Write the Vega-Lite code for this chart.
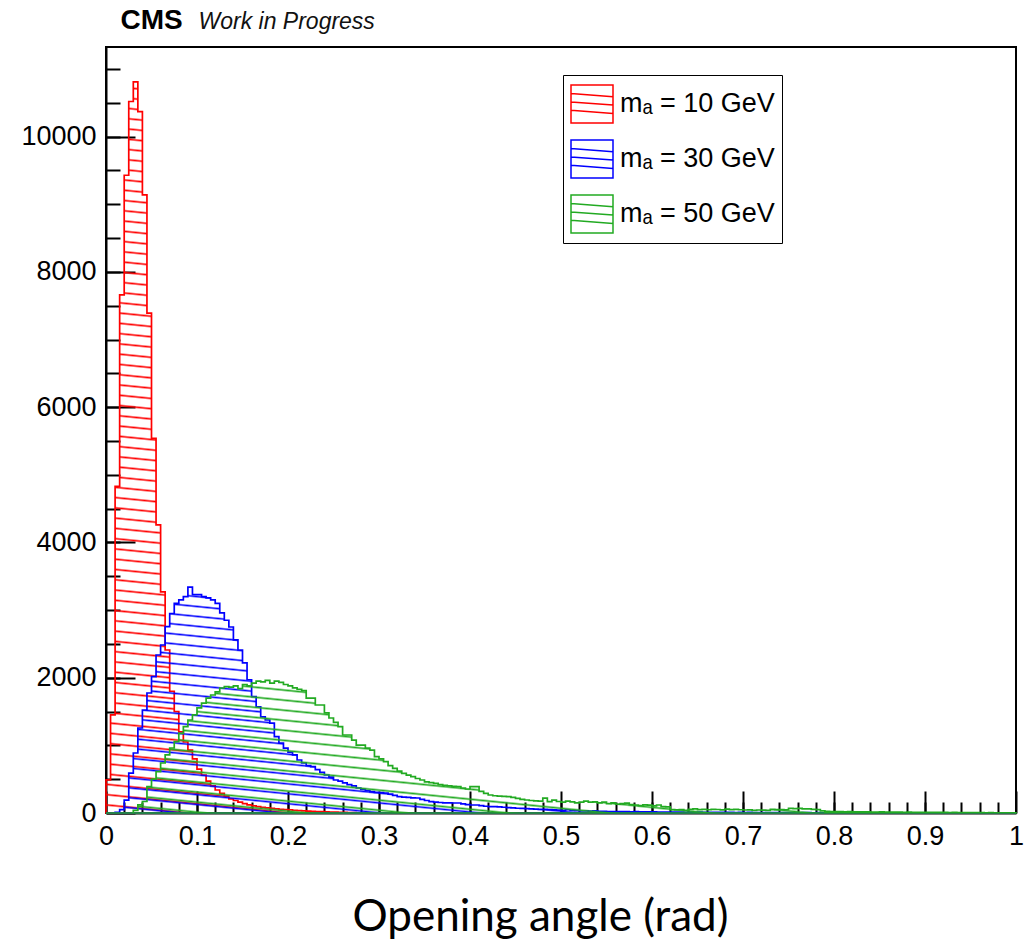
{
"$schema": "https://vega.github.io/schema/vega-lite/v6.json",
"width": 910, "height": 766,
"autosize": {"type": "none"},
"padding": {"left": 106, "top": 47, "right": 9, "bottom": 127},
"background": "white",
"config": {
  "view": {"stroke": "#000", "strokeWidth": 2},
  "axis": {"zindex": 1, "domainColor": "#000", "domainWidth": 2, "tickColor": "#000", "tickWidth": 2, "labelFont": "Liberation Sans", "labelFontSize": 27, "labelColor": "#000", "grid": false, "labelFlush": false, "offset": 0}
},
"data": {"values": [
{"x":0,"r":490,"b":0,"g":0},{"x":0.005,"r":1450,"b":0,"g":0},{"x":0.01,"r":4830,"b":10,"g":0},{"x":0.015,"r":7660,"b":50,"g":0},{"x":0.02,"r":9430,"b":190,"g":0},
{"x":0.025,"r":10520,"b":590,"g":0},{"x":0.03,"r":10810,"b":887,"g":40},{"x":0.035,"r":10370,"b":1257,"g":120},{"x":0.04,"r":9140,"b":1523,"g":170},{"x":0.045,"r":7390,"b":1774,"g":390},
{"x":0.05,"r":5540,"b":2015,"g":500},{"x":0.055,"r":4260,"b":2336,"g":611},{"x":0.06,"r":3270,"b":2484,"g":739},{"x":0.065,"r":2410,"b":2755,"g":858},{"x":0.07,"r":1800,"b":2950,"g":961},
{"x":0.075,"r":1500,"b":3100,"g":1054},{"x":0.08,"r":1200,"b":3150,"g":1178},{"x":0.085,"r":1050,"b":3200,"g":1276},{"x":0.09,"r":930,"b":3340,"g":1375},{"x":0.095,"r":800,"b":3230,"g":1450},
{"x":0.1,"r":650,"b":3230,"g":1553},{"x":0.105,"r":560,"b":3200,"g":1626},{"x":0.11,"r":470,"b":3180,"g":1700},{"x":0.115,"r":400,"b":3150,"g":1745},{"x":0.12,"r":340,"b":3100,"g":1790},
{"x":0.125,"r":290,"b":2960,"g":1848},{"x":0.13,"r":250,"b":2850,"g":1868},{"x":0.135,"r":210,"b":2750,"g":1860},{"x":0.14,"r":185,"b":2560,"g":1880},{"x":0.145,"r":160,"b":2410,"g":1840},
{"x":0.15,"r":140,"b":2220,"g":1900},{"x":0.155,"r":120,"b":1970,"g":1880},{"x":0.16,"r":105,"b":1720,"g":1920},{"x":0.165,"r":95,"b":1570,"g":1950},{"x":0.17,"r":85,"b":1420,"g":1940},
{"x":0.175,"r":75,"b":1375,"g":1960},{"x":0.18,"r":68,"b":1330,"g":1920},{"x":0.185,"r":60,"b":1130,"g":1950},{"x":0.19,"r":55,"b":1035,"g":1930},{"x":0.195,"r":50,"b":960,"g":1900},
{"x":0.2,"r":45,"b":900,"g":1880},{"x":0.205,"r":40,"b":860,"g":1850},{"x":0.21,"r":36,"b":784,"g":1830},{"x":0.215,"r":32,"b":740,"g":1810},{"x":0.22,"r":28,"b":700,"g":1700},
{"x":0.225,"r":25,"b":685,"g":1700},{"x":0.23,"r":22,"b":640,"g":1597},{"x":0.235,"r":19,"b":600,"g":1597},{"x":0.24,"r":16,"b":562,"g":1479},{"x":0.245,"r":14,"b":530,"g":1405},
{"x":0.25,"r":12,"b":488,"g":1340},{"x":0.255,"r":10,"b":470,"g":1276},{"x":0.26,"r":8,"b":444,"g":1153},{"x":0.265,"r":6,"b":420,"g":1153},{"x":0.27,"r":5,"b":400,"g":1079},
{"x":0.275,"r":4,"b":370,"g":1005},{"x":0.28,"r":3,"b":350,"g":1005},{"x":0.285,"r":2,"b":330,"g":960},{"x":0.29,"r":2,"b":315,"g":931},{"x":0.295,"r":1,"b":305,"g":833},
{"x":0.3,"r":0,"b":300,"g":800},{"x":0.305,"r":0,"b":296,"g":759},{"x":0.31,"r":0,"b":280,"g":700},{"x":0.315,"r":0,"b":260,"g":661},{"x":0.32,"r":0,"b":241,"g":620},
{"x":0.325,"r":0,"b":235,"g":587},{"x":0.33,"r":0,"b":230,"g":560},{"x":0.335,"r":0,"b":225,"g":537},{"x":0.34,"r":0,"b":222,"g":510},{"x":0.345,"r":0,"b":200,"g":488},
{"x":0.35,"r":0,"b":185,"g":460},{"x":0.355,"r":0,"b":167,"g":450},{"x":0.36,"r":0,"b":160,"g":439},{"x":0.365,"r":0,"b":155,"g":420},{"x":0.37,"r":0,"b":150,"g":410},
{"x":0.375,"r":0,"b":150,"g":400},{"x":0.38,"r":0,"b":148,"g":395},{"x":0.385,"r":0,"b":148,"g":389},{"x":0.39,"r":0,"b":135,"g":370},{"x":0.395,"r":0,"b":125,"g":355},
{"x":0.4,"r":0,"b":118,"g":390},{"x":0.405,"r":0,"b":118,"g":390},{"x":0.41,"r":0,"b":110,"g":320},{"x":0.415,"r":0,"b":100,"g":290},{"x":0.42,"r":0,"b":95,"g":266},
{"x":0.425,"r":0,"b":93,"g":255},{"x":0.43,"r":0,"b":90,"g":250},{"x":0.435,"r":0,"b":85,"g":245},{"x":0.44,"r":0,"b":80,"g":241},{"x":0.445,"r":0,"b":75,"g":230},
{"x":0.45,"r":0,"b":70,"g":215},{"x":0.455,"r":0,"b":69,"g":200},{"x":0.46,"r":0,"b":65,"g":192},{"x":0.465,"r":0,"b":60,"g":185},{"x":0.47,"r":0,"b":58,"g":180},
{"x":0.475,"r":0,"b":55,"g":175},{"x":0.48,"r":0,"b":54,"g":220},{"x":0.485,"r":0,"b":50,"g":167},{"x":0.49,"r":0,"b":45,"g":190},{"x":0.495,"r":0,"b":42,"g":170},
{"x":0.5,"r":0,"b":40,"g":160},{"x":0.505,"r":0,"b":48,"g":175},{"x":0.51,"r":0,"b":38,"g":165},{"x":0.515,"r":0,"b":35,"g":150},{"x":0.52,"r":0,"b":32,"g":160},
{"x":0.525,"r":0,"b":30,"g":175},{"x":0.53,"r":0,"b":28,"g":160},{"x":0.535,"r":0,"b":30,"g":165},{"x":0.54,"r":0,"b":26,"g":150},{"x":0.545,"r":0,"b":24,"g":160},
{"x":0.55,"r":0,"b":22,"g":140},{"x":0.555,"r":0,"b":22,"g":150},{"x":0.56,"r":0,"b":20,"g":130},{"x":0.565,"r":0,"b":22,"g":140},{"x":0.57,"r":0,"b":19,"g":145},
{"x":0.575,"r":0,"b":18,"g":125},{"x":0.58,"r":0,"b":20,"g":118},{"x":0.585,"r":0,"b":17,"g":110},{"x":0.59,"r":0,"b":18,"g":120},{"x":0.595,"r":0,"b":16,"g":115},
{"x":0.6,"r":0,"b":17,"g":105},{"x":0.605,"r":0,"b":15,"g":118},{"x":0.61,"r":0,"b":14,"g":95},{"x":0.615,"r":0,"b":15,"g":90},{"x":0.62,"r":0,"b":13,"g":50},
{"x":0.625,"r":0,"b":14,"g":45},{"x":0.63,"r":0,"b":12,"g":50},{"x":0.635,"r":0,"b":11,"g":40},{"x":0.64,"r":0,"b":12,"g":55},{"x":0.645,"r":0,"b":11,"g":60},
{"x":0.65,"r":0,"b":12,"g":50},{"x":0.655,"r":0,"b":10,"g":55},{"x":0.66,"r":0,"b":9,"g":48},{"x":0.665,"r":0,"b":10,"g":55},{"x":0.67,"r":0,"b":9,"g":52},
{"x":0.675,"r":0,"b":8,"g":45},{"x":0.68,"r":0,"b":9,"g":58},{"x":0.685,"r":0,"b":8,"g":50},{"x":0.69,"r":0,"b":7,"g":55},{"x":0.695,"r":0,"b":8,"g":48},
{"x":0.7,"r":0,"b":7,"g":44},{"x":0.705,"r":0,"b":8,"g":46},{"x":0.71,"r":0,"b":6,"g":40},{"x":0.715,"r":0,"b":7,"g":44},{"x":0.72,"r":0,"b":6,"g":42},
{"x":0.725,"r":0,"b":7,"g":38},{"x":0.73,"r":0,"b":6,"g":55},{"x":0.735,"r":0,"b":5,"g":50},{"x":0.74,"r":0,"b":6,"g":52},{"x":0.745,"r":0,"b":5,"g":48},
{"x":0.75,"r":0,"b":6,"g":69},{"x":0.755,"r":0,"b":5,"g":65},{"x":0.76,"r":0,"b":4,"g":69},{"x":0.765,"r":0,"b":5,"g":60},{"x":0.77,"r":0,"b":5,"g":62},
{"x":0.775,"r":0,"b":4,"g":55},{"x":0.78,"r":0,"b":5,"g":50},{"x":0.785,"r":0,"b":4,"g":30},{"x":0.79,"r":0,"b":4,"g":25},{"x":0.795,"r":0,"b":3,"g":22},
{"x":0.8,"r":0,"b":4,"g":20},{"x":0.805,"r":0,"b":3,"g":22},{"x":0.81,"r":0,"b":4,"g":18},{"x":0.815,"r":0,"b":3,"g":20},{"x":0.82,"r":0,"b":3,"g":17},
{"x":0.825,"r":0,"b":4,"g":18},{"x":0.83,"r":0,"b":3,"g":16},{"x":0.835,"r":0,"b":3,"g":18},{"x":0.84,"r":0,"b":2,"g":15},{"x":0.845,"r":0,"b":3,"g":14},
{"x":0.85,"r":0,"b":3,"g":16},{"x":0.855,"r":0,"b":2,"g":13},{"x":0.86,"r":0,"b":3,"g":14},{"x":0.865,"r":0,"b":2,"g":12},{"x":0.87,"r":0,"b":2,"g":13},
{"x":0.875,"r":0,"b":3,"g":11},{"x":0.88,"r":0,"b":2,"g":12},{"x":0.885,"r":0,"b":2,"g":10},{"x":0.89,"r":0,"b":2,"g":11},{"x":0.895,"r":0,"b":1,"g":10},
{"x":0.9,"r":0,"b":2,"g":9},{"x":0.905,"r":0,"b":2,"g":10},{"x":0.91,"r":0,"b":1,"g":8},{"x":0.915,"r":0,"b":2,"g":9},{"x":0.92,"r":0,"b":1,"g":8},
{"x":0.925,"r":0,"b":2,"g":7},{"x":0.93,"r":0,"b":1,"g":8},{"x":0.935,"r":0,"b":1,"g":6},{"x":0.94,"r":0,"b":2,"g":7},{"x":0.945,"r":0,"b":1,"g":6},
{"x":0.95,"r":0,"b":1,"g":5},{"x":0.955,"r":0,"b":1,"g":6},{"x":0.96,"r":0,"b":1,"g":5},{"x":0.965,"r":0,"b":1,"g":4},{"x":0.97,"r":0,"b":0,"g":5},
{"x":0.975,"r":0,"b":1,"g":4},{"x":0.98,"r":0,"b":1,"g":3},{"x":0.985,"r":0,"b":0,"g":4},{"x":0.99,"r":0,"b":1,"g":3},{"x":0.995,"r":0,"b":0,"g":2},
{"x":1,"r":0,"b":0,"g":0}
]},
"transform": [{"fold": ["r", "b", "g"], "as": ["k", "v"]}],
"layer": [
{
 "transform": [{"filter": "datum.k === 'r'"}],
 "mark": {"type": "area", "interpolate": "step-after", "strokeWidth": 1.7},
 "encoding": {
  "x": {"field": "x", "type": "quantitative", "scale": {"domain": [0, 1], "nice": false, "zero": false},
        "axis": {"orient": "bottom", "values": [0,0.1,0.2,0.3,0.4,0.5,0.6,0.7,0.8,0.9,1], "tickSize": -22, "labels": false, "domain": true, "title": null}},
  "y": {"field": "v", "type": "quantitative", "scale": {"domain": [0, 11326], "nice": false},
        "axis": {"orient": "left", "values": [0,2000,4000,6000,8000,10000], "tickSize": -29, "labels": false, "domain": true,
                 "title": "CMS", "titleAngle": 0, "titleX": 14, "titleY": -19, "titleAlign": "left", "titleBaseline": "alphabetic",
                 "titleFont": "Liberation Sans", "titleFontSize": 28, "titleFontWeight": "bold", "titleColor": "#000"}},
  "fill": {"condition": {"test": "true", "value": {"gradient": "linear", "x1": 1, "y1": 0, "x2": 0.862, "y2": 1.107, "stops": [
{"offset":0.001,"color":"#f000"},{"offset":0.003,"color":"#f00"},{"offset":0.005,"color":"#f000"},{"offset":0.0135,"color":"#f000"},{"offset":0.0155,"color":"#f00"},{"offset":0.0175,"color":"#f000"},
{"offset":0.026,"color":"#f000"},{"offset":0.028,"color":"#f00"},{"offset":0.03,"color":"#f000"},{"offset":0.0385,"color":"#f000"},{"offset":0.0405,"color":"#f00"},{"offset":0.0425,"color":"#f000"},
{"offset":0.051,"color":"#f000"},{"offset":0.053,"color":"#f00"},{"offset":0.055,"color":"#f000"},{"offset":0.0635,"color":"#f000"},{"offset":0.0655,"color":"#f00"},{"offset":0.0675,"color":"#f000"},
{"offset":0.076,"color":"#f000"},{"offset":0.078,"color":"#f00"},{"offset":0.08,"color":"#f000"},{"offset":0.0885,"color":"#f000"},{"offset":0.0905,"color":"#f00"},{"offset":0.0925,"color":"#f000"},
{"offset":0.101,"color":"#f000"},{"offset":0.103,"color":"#f00"},{"offset":0.105,"color":"#f000"},{"offset":0.1135,"color":"#f000"},{"offset":0.1155,"color":"#f00"},{"offset":0.1175,"color":"#f000"},
{"offset":0.126,"color":"#f000"},{"offset":0.128,"color":"#f00"},{"offset":0.13,"color":"#f000"},{"offset":0.1385,"color":"#f000"},{"offset":0.1405,"color":"#f00"},{"offset":0.1425,"color":"#f000"},
{"offset":0.151,"color":"#f000"},{"offset":0.153,"color":"#f00"},{"offset":0.155,"color":"#f000"},{"offset":0.1635,"color":"#f000"},{"offset":0.1655,"color":"#f00"},{"offset":0.1675,"color":"#f000"},
{"offset":0.176,"color":"#f000"},{"offset":0.178,"color":"#f00"},{"offset":0.18,"color":"#f000"},{"offset":0.1885,"color":"#f000"},{"offset":0.1905,"color":"#f00"},{"offset":0.1925,"color":"#f000"},
{"offset":0.201,"color":"#f000"},{"offset":0.203,"color":"#f00"},{"offset":0.205,"color":"#f000"},{"offset":0.2135,"color":"#f000"},{"offset":0.2155,"color":"#f00"},{"offset":0.2175,"color":"#f000"},
{"offset":0.226,"color":"#f000"},{"offset":0.228,"color":"#f00"},{"offset":0.23,"color":"#f000"},{"offset":0.2385,"color":"#f000"},{"offset":0.2405,"color":"#f00"},{"offset":0.2425,"color":"#f000"},
{"offset":0.251,"color":"#f000"},{"offset":0.253,"color":"#f00"},{"offset":0.255,"color":"#f000"},{"offset":0.2635,"color":"#f000"},{"offset":0.2655,"color":"#f00"},{"offset":0.2675,"color":"#f000"},
{"offset":0.276,"color":"#f000"},{"offset":0.278,"color":"#f00"},{"offset":0.28,"color":"#f000"},{"offset":0.2885,"color":"#f000"},{"offset":0.2905,"color":"#f00"},{"offset":0.2925,"color":"#f000"},
{"offset":0.301,"color":"#f000"},{"offset":0.303,"color":"#f00"},{"offset":0.305,"color":"#f000"},{"offset":0.3135,"color":"#f000"},{"offset":0.3155,"color":"#f00"},{"offset":0.3175,"color":"#f000"},
{"offset":0.326,"color":"#f000"},{"offset":0.328,"color":"#f00"},{"offset":0.33,"color":"#f000"},{"offset":0.3385,"color":"#f000"},{"offset":0.3405,"color":"#f00"},{"offset":0.3425,"color":"#f000"},
{"offset":0.351,"color":"#f000"},{"offset":0.353,"color":"#f00"},{"offset":0.355,"color":"#f000"},{"offset":0.3635,"color":"#f000"},{"offset":0.3655,"color":"#f00"},{"offset":0.3675,"color":"#f000"},
{"offset":0.376,"color":"#f000"},{"offset":0.378,"color":"#f00"},{"offset":0.38,"color":"#f000"},{"offset":0.3885,"color":"#f000"},{"offset":0.3905,"color":"#f00"},{"offset":0.3925,"color":"#f000"},
{"offset":0.401,"color":"#f000"},{"offset":0.403,"color":"#f00"},{"offset":0.405,"color":"#f000"},{"offset":0.4135,"color":"#f000"},{"offset":0.4155,"color":"#f00"},{"offset":0.4175,"color":"#f000"},
{"offset":0.426,"color":"#f000"},{"offset":0.428,"color":"#f00"},{"offset":0.43,"color":"#f000"},{"offset":0.4385,"color":"#f000"},{"offset":0.4405,"color":"#f00"},{"offset":0.4425,"color":"#f000"},
{"offset":0.451,"color":"#f000"},{"offset":0.453,"color":"#f00"},{"offset":0.455,"color":"#f000"},{"offset":0.4635,"color":"#f000"},{"offset":0.4655,"color":"#f00"},{"offset":0.4675,"color":"#f000"},
{"offset":0.476,"color":"#f000"},{"offset":0.478,"color":"#f00"},{"offset":0.48,"color":"#f000"},{"offset":0.4885,"color":"#f000"},{"offset":0.4905,"color":"#f00"},{"offset":0.4925,"color":"#f000"},
{"offset":0.501,"color":"#f000"},{"offset":0.503,"color":"#f00"},{"offset":0.505,"color":"#f000"},{"offset":0.5135,"color":"#f000"},{"offset":0.5155,"color":"#f00"},{"offset":0.5175,"color":"#f000"},
{"offset":0.526,"color":"#f000"},{"offset":0.528,"color":"#f00"},{"offset":0.53,"color":"#f000"},{"offset":0.5385,"color":"#f000"},{"offset":0.5405,"color":"#f00"},{"offset":0.5425,"color":"#f000"},
{"offset":0.551,"color":"#f000"},{"offset":0.553,"color":"#f00"},{"offset":0.555,"color":"#f000"},{"offset":0.5635,"color":"#f000"},{"offset":0.5655,"color":"#f00"},{"offset":0.5675,"color":"#f000"},
{"offset":0.576,"color":"#f000"},{"offset":0.578,"color":"#f00"},{"offset":0.58,"color":"#f000"},{"offset":0.5885,"color":"#f000"},{"offset":0.5905,"color":"#f00"},{"offset":0.5925,"color":"#f000"},
{"offset":0.601,"color":"#f000"},{"offset":0.603,"color":"#f00"},{"offset":0.605,"color":"#f000"},{"offset":0.6135,"color":"#f000"},{"offset":0.6155,"color":"#f00"},{"offset":0.6175,"color":"#f000"},
{"offset":0.626,"color":"#f000"},{"offset":0.628,"color":"#f00"},{"offset":0.63,"color":"#f000"},{"offset":0.6385,"color":"#f000"},{"offset":0.6405,"color":"#f00"},{"offset":0.6425,"color":"#f000"},
{"offset":0.651,"color":"#f000"},{"offset":0.653,"color":"#f00"},{"offset":0.655,"color":"#f000"},{"offset":0.6635,"color":"#f000"},{"offset":0.6655,"color":"#f00"},{"offset":0.6675,"color":"#f000"},
{"offset":0.676,"color":"#f000"},{"offset":0.678,"color":"#f00"},{"offset":0.68,"color":"#f000"},{"offset":0.6885,"color":"#f000"},{"offset":0.6905,"color":"#f00"},{"offset":0.6925,"color":"#f000"},
{"offset":0.701,"color":"#f000"},{"offset":0.703,"color":"#f00"},{"offset":0.705,"color":"#f000"},{"offset":0.7135,"color":"#f000"},{"offset":0.7155,"color":"#f00"},{"offset":0.7175,"color":"#f000"},
{"offset":0.726,"color":"#f000"},{"offset":0.728,"color":"#f00"},{"offset":0.73,"color":"#f000"},{"offset":0.7385,"color":"#f000"},{"offset":0.7405,"color":"#f00"},{"offset":0.7425,"color":"#f000"},
{"offset":0.751,"color":"#f000"},{"offset":0.753,"color":"#f00"},{"offset":0.755,"color":"#f000"},{"offset":0.7635,"color":"#f000"},{"offset":0.7655,"color":"#f00"},{"offset":0.7675,"color":"#f000"},
{"offset":0.776,"color":"#f000"},{"offset":0.778,"color":"#f00"},{"offset":0.78,"color":"#f000"},{"offset":0.7885,"color":"#f000"},{"offset":0.7905,"color":"#f00"},{"offset":0.7925,"color":"#f000"},
{"offset":0.801,"color":"#f000"},{"offset":0.803,"color":"#f00"},{"offset":0.805,"color":"#f000"},{"offset":0.8135,"color":"#f000"},{"offset":0.8155,"color":"#f00"},{"offset":0.8175,"color":"#f000"},
{"offset":0.826,"color":"#f000"},{"offset":0.828,"color":"#f00"},{"offset":0.83,"color":"#f000"},{"offset":0.8385,"color":"#f000"},{"offset":0.8405,"color":"#f00"},{"offset":0.8425,"color":"#f000"},
{"offset":0.851,"color":"#f000"},{"offset":0.853,"color":"#f00"},{"offset":0.855,"color":"#f000"},{"offset":0.8635,"color":"#f000"},{"offset":0.8655,"color":"#f00"},{"offset":0.8675,"color":"#f000"},
{"offset":0.876,"color":"#f000"},{"offset":0.878,"color":"#f00"},{"offset":0.88,"color":"#f000"},{"offset":0.8885,"color":"#f000"},{"offset":0.8905,"color":"#f00"},{"offset":0.8925,"color":"#f000"},
{"offset":0.901,"color":"#f000"},{"offset":0.903,"color":"#f00"},{"offset":0.905,"color":"#f000"},{"offset":0.9135,"color":"#f000"},{"offset":0.9155,"color":"#f00"},{"offset":0.9175,"color":"#f000"},
{"offset":0.926,"color":"#f000"},{"offset":0.928,"color":"#f00"},{"offset":0.93,"color":"#f000"},{"offset":0.9385,"color":"#f000"},{"offset":0.9405,"color":"#f00"},{"offset":0.9425,"color":"#f000"},
{"offset":0.951,"color":"#f000"},{"offset":0.953,"color":"#f00"},{"offset":0.955,"color":"#f000"},{"offset":0.9635,"color":"#f000"},{"offset":0.9655,"color":"#f00"},{"offset":0.9675,"color":"#f000"},
{"offset":0.976,"color":"#f000"},{"offset":0.978,"color":"#f00"},{"offset":0.98,"color":"#f000"},{"offset":0.9885,"color":"#f000"},{"offset":0.9905,"color":"#f00"},{"offset":0.9925,"color":"#f000"}
 ]}}, "value": "transparent"},
  "stroke": {"field": "k", "type": "nominal", "scale": {"domain": ["r", "b", "g"], "range": ["#f00", "#00f", "#2a2"]},
     "legend": {"title": null, "orient": "none", "legendX": 457, "legendY": 28,
       "symbolType": "M-1,-0.9H1V0.9H-1Z M-1,-0.5L1,-0.35 M-1,-0.1L1,0.05 M-1,0.3L1,0.45",
       "symbolSize": 1764, "symbolStrokeWidth": 1.5, "symbolFillColor": "transparent",
       "labelFont": "Liberation Sans", "labelFontSize": 27, "labelColor": "#000", "labelOffset": 6, "labelLimit": 300,
       "rowPadding": 11, "padding": 7, "strokeColor": "#000", "fillColor": "#fff",
       "labelExpr": "datum.value === 'r' ? 'mₐ = 10 GeV\u00a0' : datum.value === 'b' ? 'mₐ = 30 GeV\u00a0' : 'mₐ = 50 GeV\u00a0'"}}
 }
},
{
 "transform": [{"filter": "datum.k === 'b'"}],
 "mark": {"type": "area", "interpolate": "step-after", "strokeWidth": 1.7},
 "encoding": {
  "x": {"field": "x", "type": "quantitative",
        "axis": {"orient": "bottom", "values": [0.02,0.04,0.06,0.08,0.1,0.12,0.14,0.16,0.18,0.2,0.22,0.24,0.26,0.28,0.3,0.32,0.34,0.36,0.38,0.4,0.42,0.44,0.46,0.48,0.5,0.52,0.54,0.56,0.58,0.6,0.62,0.64,0.66,0.68,0.7,0.72,0.74,0.76,0.78,0.8,0.82,0.84,0.86,0.88,0.9,0.92,0.94,0.96,0.98], "tickSize": -11, "labels": false, "domain": false, "title": null}},
  "y": {"field": "v", "type": "quantitative",
        "axis": {"orient": "left", "values": [500,1000,1500,2000,2500,3000,3500,4000,4500,5000,5500,6000,6500,7000,7500,8000,8500,9000,9500,10000,10500,11000], "tickSize": -14, "labels": false, "domain": false, "title": null}},
  "fill": {"condition": {"test": "true", "value": {"gradient": "linear", "x1": 1, "y1": 0, "x2": 0.514, "y2": 1.207, "stops": [
{"offset":0.002,"color":"#00f0"},{"offset":0.007,"color":"#00f"},{"offset":0.012,"color":"#00f0"},
{"offset":0.0333,"color":"#00f0"},{"offset":0.0383,"color":"#00f"},{"offset":0.0433,"color":"#00f0"},
{"offset":0.0645,"color":"#00f0"},{"offset":0.0695,"color":"#00f"},{"offset":0.0745,"color":"#00f0"},
{"offset":0.0958,"color":"#00f0"},{"offset":0.1008,"color":"#00f"},{"offset":0.1058,"color":"#00f0"},
{"offset":0.127,"color":"#00f0"},{"offset":0.132,"color":"#00f"},{"offset":0.137,"color":"#00f0"},
{"offset":0.1583,"color":"#00f0"},{"offset":0.1633,"color":"#00f"},{"offset":0.1683,"color":"#00f0"},
{"offset":0.1895,"color":"#00f0"},{"offset":0.1945,"color":"#00f"},{"offset":0.1995,"color":"#00f0"},
{"offset":0.2208,"color":"#00f0"},{"offset":0.2258,"color":"#00f"},{"offset":0.2308,"color":"#00f0"},
{"offset":0.252,"color":"#00f0"},{"offset":0.257,"color":"#00f"},{"offset":0.262,"color":"#00f0"},
{"offset":0.2833,"color":"#00f0"},{"offset":0.2883,"color":"#00f"},{"offset":0.2933,"color":"#00f0"},
{"offset":0.3145,"color":"#00f0"},{"offset":0.3195,"color":"#00f"},{"offset":0.3245,"color":"#00f0"},
{"offset":0.3458,"color":"#00f0"},{"offset":0.3508,"color":"#00f"},{"offset":0.3558,"color":"#00f0"},
{"offset":0.377,"color":"#00f0"},{"offset":0.382,"color":"#00f"},{"offset":0.387,"color":"#00f0"},
{"offset":0.4083,"color":"#00f0"},{"offset":0.4133,"color":"#00f"},{"offset":0.4183,"color":"#00f0"},
{"offset":0.4395,"color":"#00f0"},{"offset":0.4445,"color":"#00f"},{"offset":0.4495,"color":"#00f0"},
{"offset":0.4708,"color":"#00f0"},{"offset":0.4758,"color":"#00f"},{"offset":0.4808,"color":"#00f0"},
{"offset":0.502,"color":"#00f0"},{"offset":0.507,"color":"#00f"},{"offset":0.512,"color":"#00f0"},
{"offset":0.5333,"color":"#00f0"},{"offset":0.5383,"color":"#00f"},{"offset":0.5433,"color":"#00f0"},
{"offset":0.5645,"color":"#00f0"},{"offset":0.5695,"color":"#00f"},{"offset":0.5745,"color":"#00f0"},
{"offset":0.5958,"color":"#00f0"},{"offset":0.6008,"color":"#00f"},{"offset":0.6058,"color":"#00f0"},
{"offset":0.627,"color":"#00f0"},{"offset":0.632,"color":"#00f"},{"offset":0.637,"color":"#00f0"},
{"offset":0.6583,"color":"#00f0"},{"offset":0.6633,"color":"#00f"},{"offset":0.6683,"color":"#00f0"},
{"offset":0.6895,"color":"#00f0"},{"offset":0.6945,"color":"#00f"},{"offset":0.6995,"color":"#00f0"},
{"offset":0.7208,"color":"#00f0"},{"offset":0.7258,"color":"#00f"},{"offset":0.7308,"color":"#00f0"},
{"offset":0.752,"color":"#00f0"},{"offset":0.757,"color":"#00f"},{"offset":0.762,"color":"#00f0"},
{"offset":0.7833,"color":"#00f0"},{"offset":0.7883,"color":"#00f"},{"offset":0.7933,"color":"#00f0"},
{"offset":0.8145,"color":"#00f0"},{"offset":0.8195,"color":"#00f"},{"offset":0.8245,"color":"#00f0"},
{"offset":0.8458,"color":"#00f0"},{"offset":0.8508,"color":"#00f"},{"offset":0.8558,"color":"#00f0"},
{"offset":0.877,"color":"#00f0"},{"offset":0.882,"color":"#00f"},{"offset":0.887,"color":"#00f0"},
{"offset":0.9083,"color":"#00f0"},{"offset":0.9133,"color":"#00f"},{"offset":0.9183,"color":"#00f0"},
{"offset":0.9395,"color":"#00f0"},{"offset":0.9445,"color":"#00f"},{"offset":0.9495,"color":"#00f0"},
{"offset":0.9708,"color":"#00f0"},{"offset":0.9758,"color":"#00f"},{"offset":0.9808,"color":"#00f0"}
 ]}}, "value": "transparent"},
  "stroke": {"field": "k", "type": "nominal"}
 }
},
{
 "transform": [{"filter": "datum.k === 'g'"}],
 "mark": {"type": "area", "interpolate": "step-after", "strokeWidth": 1.7},
 "encoding": {
  "x": {"field": "x", "type": "quantitative",
        "axis": {"orient": "bottom", "values": [0,0.1,0.2,0.3,0.4,0.5,0.6,0.7,0.8,0.9,1], "format": "~g", "ticks": false, "domain": false, "labelPadding": 10,
                 "title": "Opening angle (rad)", "titleFont": "Lato", "titleFontSize": 44, "titleFontWeight": "normal", "titleColor": "#000",
                 "titleX": 434, "titleY": 117, "titleAlign": "center", "titleBaseline": "alphabetic"}},
  "y": {"field": "v", "type": "quantitative",
        "axis": {"orient": "left", "values": [0,2000,4000,6000,8000,10000], "format": "d", "ticks": false, "domain": false, "labelPadding": 10,
                 "title": "Work in Progress", "titleAngle": 0, "titleX": 92, "titleY": -19, "titleAlign": "left", "titleBaseline": "alphabetic",
                 "titleFont": "Liberation Sans", "titleFontSize": 23, "titleFontStyle": "italic", "titleFontWeight": "normal", "titleColor": "#111"}},
  "fill": {"condition": {"test": "true", "value": {"gradient": "linear", "x1": 1, "y1": 0, "x2": 0.2135, "y2": 1.1465, "stops": [
{"offset":0.003,"color":"#2a20"},{"offset":0.0105,"color":"#2a2"},{"offset":0.018,"color":"#2a20"},
{"offset":0.048,"color":"#2a20"},{"offset":0.0555,"color":"#2a2"},{"offset":0.063,"color":"#2a20"},
{"offset":0.093,"color":"#2a20"},{"offset":0.1005,"color":"#2a2"},{"offset":0.108,"color":"#2a20"},
{"offset":0.138,"color":"#2a20"},{"offset":0.1455,"color":"#2a2"},{"offset":0.153,"color":"#2a20"},
{"offset":0.183,"color":"#2a20"},{"offset":0.1905,"color":"#2a2"},{"offset":0.198,"color":"#2a20"},
{"offset":0.228,"color":"#2a20"},{"offset":0.2355,"color":"#2a2"},{"offset":0.243,"color":"#2a20"},
{"offset":0.273,"color":"#2a20"},{"offset":0.2805,"color":"#2a2"},{"offset":0.288,"color":"#2a20"},
{"offset":0.318,"color":"#2a20"},{"offset":0.3255,"color":"#2a2"},{"offset":0.333,"color":"#2a20"},
{"offset":0.363,"color":"#2a20"},{"offset":0.3705,"color":"#2a2"},{"offset":0.378,"color":"#2a20"},
{"offset":0.408,"color":"#2a20"},{"offset":0.4155,"color":"#2a2"},{"offset":0.423,"color":"#2a20"},
{"offset":0.453,"color":"#2a20"},{"offset":0.4605,"color":"#2a2"},{"offset":0.468,"color":"#2a20"},
{"offset":0.498,"color":"#2a20"},{"offset":0.5055,"color":"#2a2"},{"offset":0.513,"color":"#2a20"},
{"offset":0.543,"color":"#2a20"},{"offset":0.5505,"color":"#2a2"},{"offset":0.558,"color":"#2a20"},
{"offset":0.588,"color":"#2a20"},{"offset":0.5955,"color":"#2a2"},{"offset":0.603,"color":"#2a20"},
{"offset":0.633,"color":"#2a20"},{"offset":0.6405,"color":"#2a2"},{"offset":0.648,"color":"#2a20"},
{"offset":0.678,"color":"#2a20"},{"offset":0.6855,"color":"#2a2"},{"offset":0.693,"color":"#2a20"},
{"offset":0.723,"color":"#2a20"},{"offset":0.7305,"color":"#2a2"},{"offset":0.738,"color":"#2a20"},
{"offset":0.768,"color":"#2a20"},{"offset":0.7755,"color":"#2a2"},{"offset":0.783,"color":"#2a20"},
{"offset":0.813,"color":"#2a20"},{"offset":0.8205,"color":"#2a2"},{"offset":0.828,"color":"#2a20"},
{"offset":0.858,"color":"#2a20"},{"offset":0.8655,"color":"#2a2"},{"offset":0.873,"color":"#2a20"},
{"offset":0.903,"color":"#2a20"},{"offset":0.9105,"color":"#2a2"},{"offset":0.918,"color":"#2a20"},
{"offset":0.948,"color":"#2a20"},{"offset":0.9555,"color":"#2a2"},{"offset":0.963,"color":"#2a20"}
 ]}}, "value": "transparent"},
  "stroke": {"field": "k", "type": "nominal"}
 }
}
],
"resolve": {"axis": {"x": "independent", "y": "independent"}}
}
